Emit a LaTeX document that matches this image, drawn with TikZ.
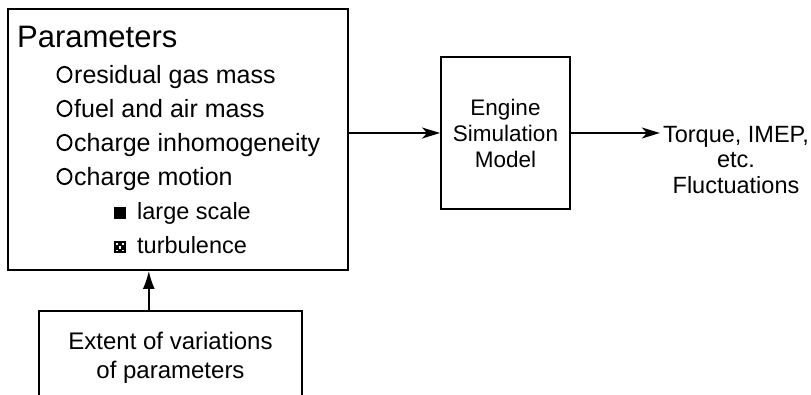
\documentclass[tikz,border=0pt]{standalone}
\usepackage{fontspec}
\setmainfont{Liberation Sans}
\usetikzlibrary{arrows.meta}
\begin{document}
\begin{tikzpicture}[x=1pt,y=-1pt,
  box/.style={draw, line width=1.9pt, inner sep=0pt},
  itemtext/.style={anchor=base west, inner sep=0pt, font=\fontsize{25}{30}\selectfont},
  subtext/.style={anchor=base west, inner sep=0pt, font=\fontsize{23.5}{28}\selectfont},
  bulletring/.style={draw, line width=1.9pt},
  arr/.style={line width=1.7pt, -{Stealth[length=18pt,width=11pt,inset=5pt]}},
  uparr/.style={line width=1.7pt, -{Latex[length=18pt,width=12pt]}}]
\clip (0,0) rectangle (811,394);
% Parameters box
\node[box, minimum width=340, minimum height=261] (par) at (178,139.5) {};
\node[anchor=base west, inner sep=0pt, font=\fontsize{31}{31}\selectfont] (ptitle) at (17,47) {Parameters};
\node[itemtext] (i1) at (74,83) {residual gas mass};
\node[itemtext] (i2) at (74,117) {fuel and air mass};
\node[itemtext] (i3) at (74,151) {charge inhomogeneity};
\node[itemtext] (i4) at (74,185) {charge motion};
\node[subtext] (s1) at (137,219) {large scale};
\node[subtext] (s2) at (137,253) {turbulence};
% bullets
\draw[bulletring] (64.5,74.5) ellipse (7 and 7.6);
\draw[bulletring] (64.5,108.5) ellipse (7 and 7.6);
\draw[bulletring] (64.5,142.5) ellipse (7 and 7.6);
\draw[bulletring] (64.5,176.5) ellipse (7 and 7.6);
\fill (114,207) rectangle (126,219);
\fill (114,241) rectangle (126,253);
\fill[white] (116,243) rectangle (118.4,245.4);
\fill[white] (121.6,243) rectangle (124,245.4);
\fill[white] (118.8,246.2) rectangle (121.2,248.6);
\fill[white] (116,249.6) rectangle (118,251.4);
\fill[white] (122,249.6) rectangle (124,251.4);
% Engine box
\node[box, minimum width=129, minimum height=152, align=center,
      font=\fontsize{22.5}{26}\selectfont] (eng) at (505.5,133) {Engine\\Simulation\\Model};
% Output text
\node[inner sep=3pt, align=center, font=\fontsize{23.5}{25.5}\selectfont] (out) at (736,160)
  {Torque, IMEP,\\etc.\\Fluctuations};
% Extent box (open at the bottom)
\node[inner sep=0pt, minimum width=263, minimum height=94, align=center,
      font=\fontsize{24}{29.5}\selectfont] (ext) at (170.5,358)
  {Extent of variations\\of parameters};
\draw[line width=1.9pt] (ext.south west) -- (ext.north west) -- (ext.north east) -- (ext.south east);
% connectors
\draw[arr] (eng.west -| par.east) -- (eng.west);
\draw[arr] (eng.east) -- (eng.east -| out.west);
\draw[uparr] ([xshift=110pt]ext.north west) -- ([xshift=110pt]ext.north west |- par.south);
\end{tikzpicture}
\end{document}
